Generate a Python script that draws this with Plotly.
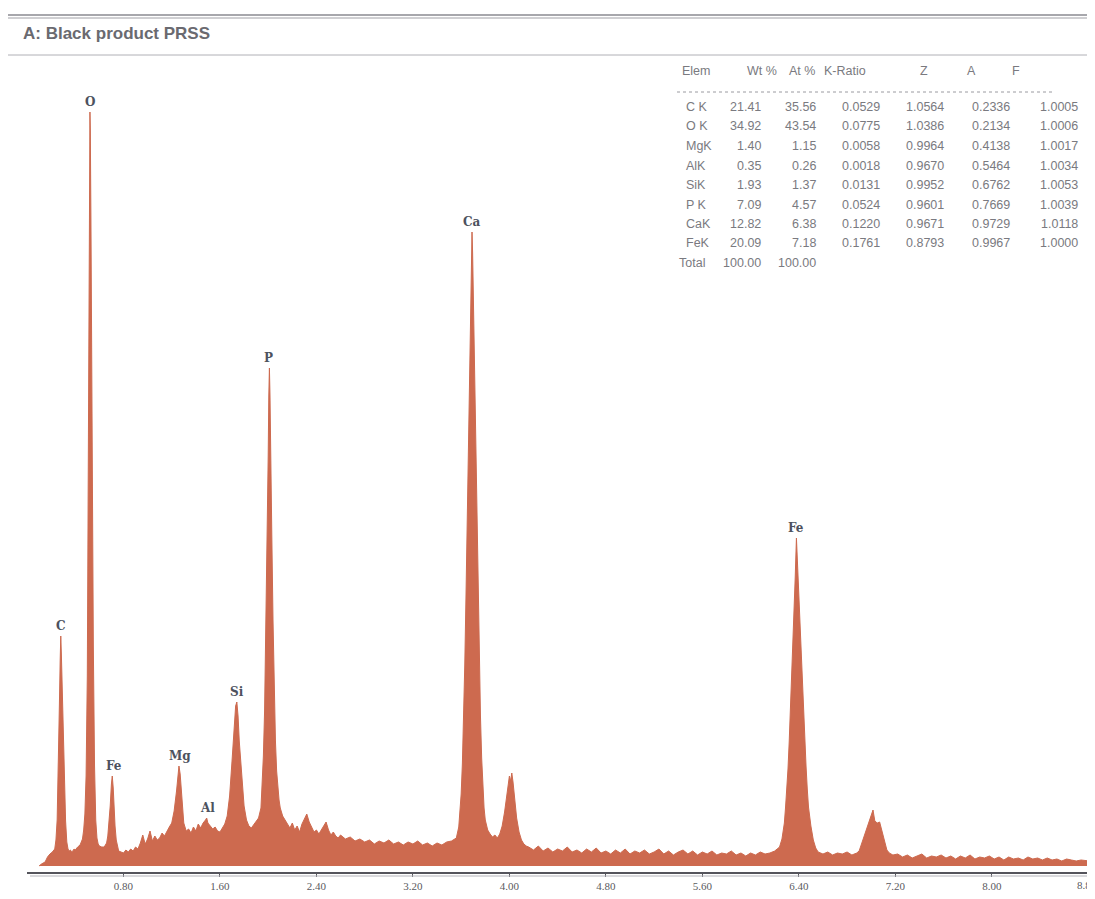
import plotly.graph_objects as go

# ---------------- data ----------------
# EDS spectrum: (energy keV, counts)
spectrum_low = [
    (0.10, 0), (0.12, 2), (0.15, 4), (0.17, 9), (0.19, 12), (0.21, 14), (0.23, 17), (0.24, 26),
    (0.25, 46), (0.26, 95), (0.27, 170), (0.275, 205), (0.28, 230), (0.285, 212), (0.29, 185),
    (0.30, 140), (0.31, 85), (0.32, 45), (0.33, 24), (0.34, 17), (0.35, 15), (0.36, 16), (0.37, 14),
    (0.38, 15), (0.39, 17), (0.40, 16), (0.42, 19), (0.44, 21), (0.46, 27), (0.47, 36), (0.48, 52),
    (0.49, 90), (0.50, 190), (0.51, 420), (0.515, 580), (0.52, 720), (0.522, 754), (0.525, 735),
    (0.53, 650), (0.54, 420), (0.55, 220), (0.56, 100), (0.57, 46), (0.58, 28), (0.59, 22),
    (0.60, 20), (0.62, 19), (0.64, 19), (0.66, 23), (0.67, 30), (0.68, 42), (0.69, 60), (0.70, 82),
    (0.707, 90), (0.715, 78), (0.72, 62), (0.73, 40), (0.74, 26), (0.75, 19), (0.76, 15),
    (0.78, 14), (0.80, 13), (0.82, 16), (0.84, 14), (0.86, 17), (0.88, 15), (0.90, 19), (0.92, 17),
    (0.94, 23), (0.96, 31), (0.98, 22), (1.00, 27), (1.02, 35), (1.04, 25), (1.06, 30), (1.08, 26),
    (1.10, 28), (1.12, 33), (1.14, 30), (1.16, 35), (1.18, 39), (1.20, 43), (1.22, 55), (1.24, 75),
    (1.25, 88), (1.26, 100), (1.27, 92), (1.28, 75), (1.29, 56), (1.30, 43), (1.32, 35), (1.34, 37),
    (1.36, 33), (1.38, 39), (1.40, 35), (1.42, 42), (1.44, 38), (1.46, 43), (1.48, 46), (1.49, 48),
    (1.50, 43), (1.52, 40), (1.54, 37), (1.56, 39), (1.58, 35), (1.60, 34),
]
spectrum_mid = [
    (1.62, 38), (1.64, 42), (1.66, 50), (1.68, 70), (1.70, 105), (1.72, 145), (1.73, 160),
    (1.74, 164), (1.75, 150), (1.76, 125), (1.78, 90), (1.80, 60), (1.82, 46), (1.84, 40),
    (1.86, 38), (1.88, 41), (1.90, 44), (1.92, 48), (1.94, 58), (1.95, 78), (1.96, 110), (1.97, 155),
    (1.98, 230), (1.99, 320), (2.00, 410), (2.005, 470), (2.01, 498), (2.015, 470), (2.02, 410),
    (2.03, 330), (2.04, 245), (2.05, 175), (2.06, 125), (2.07, 95), (2.08, 78), (2.09, 66),
    (2.10, 58), (2.12, 50), (2.14, 46), (2.16, 42), (2.18, 38), (2.20, 43), (2.22, 36), (2.24, 40),
    (2.26, 34), (2.28, 42), (2.30, 48), (2.32, 52), (2.34, 44), (2.36, 38), (2.38, 34), (2.40, 36),
    (2.42, 32), (2.44, 36), (2.46, 40), (2.48, 44), (2.50, 36), (2.52, 31), (2.54, 34), (2.56, 30),
    (2.58, 28), (2.60, 31), (2.64, 27), (2.68, 29), (2.72, 25), (2.76, 27), (2.80, 24), (2.84, 26),
    (2.88, 22), (2.92, 25), (2.96, 23), (3.00, 26), (3.04, 22), (3.08, 24), (3.12, 21), (3.16, 24),
    (3.20, 22), (3.24, 25), (3.28, 21), (3.32, 23), (3.36, 20), (3.40, 23), (3.44, 21), (3.48, 24),
    (3.52, 25),
]
spectrum_ca = [
    (3.56, 28), (3.58, 39), (3.59, 53), (3.60, 72), (3.61, 102), (3.62, 145), (3.63, 201),
    (3.64, 269), (3.65, 348), (3.66, 430), (3.67, 509), (3.68, 574), (3.685, 610), (3.69, 634),
    (3.695, 613), (3.70, 578), (3.71, 513), (3.72, 434), (3.73, 353), (3.74, 274), (3.75, 206),
    (3.76, 150), (3.77, 108), (3.78, 78), (3.79, 58), (3.80, 46), (3.82, 36), (3.84, 32),
    (3.86, 29), (3.88, 31), (3.90, 28), (3.92, 32), (3.94, 40), (3.96, 54), (3.98, 74), (3.99, 86),
    (4.00, 90), (4.01, 85), (4.02, 93), (4.03, 84), (4.04, 69), (4.06, 48), (4.08, 34), (4.10, 26),
    (4.12, 22), (4.14, 20), (4.16, 19), (4.20, 16), (4.24, 20), (4.28, 15), (4.32, 18), (4.36, 14),
    (4.40, 17), (4.44, 15), (4.48, 19), (4.52, 14), (4.56, 16), (4.60, 13), (4.64, 17), (4.68, 14),
    (4.72, 18), (4.76, 13), (4.80, 15), (4.84, 12), (4.88, 16), (4.92, 13), (4.96, 17), (5.00, 12),
    (5.04, 15), (5.08, 13), (5.12, 16), (5.16, 12), (5.20, 14), (5.24, 17), (5.28, 12), (5.32, 15),
    (5.36, 11), (5.40, 14), (5.44, 16), (5.48, 12), (5.52, 15), (5.56, 11), (5.60, 14), (5.64, 12),
    (5.68, 15), (5.72, 11), (5.76, 13), (5.80, 12), (5.84, 15), (5.88, 11), (5.92, 13), (5.96, 10),
    (6.00, 13), (6.04, 11), (6.08, 14), (6.12, 12), (6.16, 13), (6.20, 15),
]
spectrum_fe = [
    (6.22, 17), (6.24, 19), (6.26, 27), (6.28, 43), (6.29, 59), (6.30, 75), (6.31, 97), (6.32, 124),
    (6.33, 154), (6.34, 187), (6.35, 222), (6.36, 255), (6.37, 289), (6.375, 309), (6.38, 328),
    (6.385, 314), (6.39, 299), (6.40, 279), (6.41, 255), (6.42, 224), (6.43, 189), (6.44, 157),
    (6.45, 127), (6.46, 99), (6.47, 77), (6.48, 59), (6.50, 40), (6.52, 26), (6.54, 18), (6.56, 14),
    (6.60, 12), (6.64, 14), (6.68, 11), (6.72, 13), (6.76, 12), (6.80, 14), (6.84, 11), (6.88, 13),
    (6.90, 15), (6.92, 22), (6.94, 30), (6.96, 36), (6.98, 42), (7.00, 49), (7.015, 56), (7.03, 45),
    (7.05, 43), (7.07, 44), (7.09, 34), (7.11, 24), (7.13, 16), (7.15, 13), (7.18, 11), (7.22, 12),
    (7.26, 9), (7.30, 11), (7.34, 8), (7.38, 10), (7.42, 12), (7.46, 8), (7.50, 10), (7.54, 9),
    (7.58, 11), (7.62, 8), (7.66, 10), (7.70, 7), (7.74, 10), (7.78, 8), (7.82, 11), (7.86, 7),
    (7.90, 9), (7.94, 8), (7.98, 10), (8.02, 7), (8.06, 9), (8.10, 6), (8.14, 9), (8.18, 7),
    (8.22, 8), (8.26, 6), (8.30, 9), (8.34, 7), (8.38, 8), (8.42, 6), (8.46, 8), (8.50, 6),
    (8.54, 7), (8.58, 5), (8.62, 7), (8.66, 6), (8.70, 5), (8.74, 6), (8.78, 5), (8.81, 5),
]

# Peak labels
peak_labels = ["C", "O", "Fe", "Mg", "Al", "Si", "P", "Ca", "Fe"]
peak_energy = [0.28, 0.522, 0.72, 1.265, 1.495, 1.74, 2.00, 3.69, 6.38]
peak_counts = [230, 754, 90, 100, 48, 164, 498, 634, 328]

# X ticks (the last label sits at the right window edge)
tick_values = [0.8, 1.6, 2.4, 3.2, 4.0, 4.8, 5.6, 6.4, 7.2, 8.0, 8.8]
tick_labels = ["0.80", "1.60", "2.40", "3.20", "4.00", "4.80", "5.60", "6.40", "7.20", "8.00", "8.8"]

# Quantification table
table_header = ["Elem", "Wt %", "At %", "K-Ratio", "Z", "A", "F"]
elements = ["C K", "O K", "MgK", "AlK", "SiK", "P K", "CaK", "FeK"]
wt_pct = ["21.41", "34.92", "1.40", "0.35", "1.93", "7.09", "12.82", "20.09"]
at_pct = ["35.56", "43.54", "1.15", "0.26", "1.37", "4.57", "6.38", "7.18"]
k_ratio = ["0.0529", "0.0775", "0.0058", "0.0018", "0.0131", "0.0524", "0.1220", "0.1761"]
z_corr = ["1.0564", "1.0386", "0.9964", "0.9670", "0.9952", "0.9601", "0.9671", "0.8793"]
a_corr = ["0.2336", "0.2134", "0.4138", "0.5464", "0.6762", "0.7669", "0.9729", "0.9967"]
f_corr = ["1.0005", "1.0006", "1.0017", "1.0034", "1.0053", "1.0039", "1.0118", "1.0000"]
total_row = ["Total", "100.00", "100.00"]

title_text = "A: Black product PRSS"
cursor_kev = 8.81

# ---------------- figure ----------------
# the page body adds an 8 px offset; the figure is sized so the page does not overflow
OFF = 8
PAGE_W, PAGE_H = 1095, 899
PL, PR, PT, PB = 27, 1090, 92, 872          # plot area in page pixels
W, H = PAGE_W - OFF, PAGE_H - 2 * OFF
ML, MR, MT, MB = PL - OFF, (OFF + W) - PR, PT - OFF, (OFF + H) - PB
PW, PH = PR - PL, PB - PT


def px(x):
    return (x - PL) / PW


def py(y):
    return (PB - y) / PH


energy = []
counts = []
for seg in (spectrum_low, spectrum_mid, spectrum_ca, spectrum_fe):
    for e, c in seg:
        energy.append(e)
        counts.append(c)

FILL = "#cd6a4f"

fig = go.Figure()
fig.add_trace(go.Scatter(
    x=energy, y=counts, mode="lines", fill="tozeroy",
    line=dict(color=FILL, width=1), fillcolor=FILL, hoverinfo="skip", showlegend=False,
))

label_font = dict(family="DejaVu Serif", size=12, color="#4d525e")
for lab, e, c in zip(peak_labels, peak_energy, peak_counts):
    fig.add_annotation(x=e, y=c, text="<b>%s</b>" % lab, showarrow=False,
                       yanchor="bottom", yshift=1, font=label_font)

# title
fig.add_annotation(xref="paper", yref="paper", x=px(21), y=py(33), text="<b>%s</b>" % title_text,
                   showarrow=False, xanchor="left", yanchor="middle",
                   font=dict(family="Liberation Sans", size=17, color="#6a6a70"))

# table
tfont = dict(family="Liberation Sans", size=12.5, color="#7a7a80")
header_x = [680, 745, 787, 822, 924, 971, 1016]
header_anchor = ["left", "left", "left", "left", "center", "center", "center"]
for txt, x, anc in zip(table_header, header_x, header_anchor):
    fig.add_annotation(xref="paper", yref="paper", x=px(x), y=py(71), text=txt, showarrow=False,
                       xanchor=anc, yanchor="middle", font=tfont)
fig.add_shape(type="line", xref="paper", yref="paper", x0=px(677), x1=px(1055), y0=py(92), y1=py(92),
              line=dict(color="#9a9aa0", width=1, dash="dot"))

col_right = [763, 818, 882, 946, 1012, 1080]
row_y0, row_step = 107, 19.5
for i, el in enumerate(elements):
    y = py(row_y0 + i * row_step)
    fig.add_annotation(xref="paper", yref="paper", x=px(684), y=y, text=el, showarrow=False,
                       xanchor="left", yanchor="middle", font=tfont)
    for vals, xr in zip((wt_pct, at_pct, k_ratio, z_corr, a_corr, f_corr), col_right):
        fig.add_annotation(xref="paper", yref="paper", x=px(xr), y=y, text=vals[i], showarrow=False,
                           xanchor="right", yanchor="middle", font=tfont)
y_tot = py(row_y0 + len(elements) * row_step)
fig.add_annotation(xref="paper", yref="paper", x=px(677), y=y_tot, text=total_row[0], showarrow=False,
                   xanchor="left", yanchor="middle", font=tfont)
for txt, xr in zip(total_row[1:], col_right[:2]):
    fig.add_annotation(xref="paper", yref="paper", x=px(xr), y=y_tot, text=txt, showarrow=False,
                       xanchor="right", yanchor="middle", font=tfont)

# frame lines of the original window
for yy, col, wd in ((15, "#8a8a90", 1.5), (18, "#a0a0a6", 1), (55, "#b0b0b6", 1)):
    fig.add_shape(type="line", xref="paper", yref="paper", x0=px(OFF), x1=px(PAGE_W), y0=py(yy), y1=py(yy),
                  line=dict(color=col, width=wd))
# lower axis double line
fig.add_shape(type="line", xref="paper", yref="paper", x0=px(30), x1=px(1092), y0=py(876), y1=py(876),
              line=dict(color="#b5b5bb", width=1))
# cursor marker at right edge
fig.add_shape(type="line", xref="x", yref="y", x0=cursor_kev, x1=cursor_kev, y0=0, y1=80,
              line=dict(color="#6a6a70", width=1.5))

tick_font = dict(family="Liberation Serif", size=11, color="#5a5a60")
# last tick label kept inside the window, right-aligned at its edge
fig.add_annotation(xref="paper", yref="paper", x=px(PAGE_W - 2), y=py(885), text=tick_labels[-1],
                   showarrow=False, xanchor="right", yanchor="middle", font=tick_font)

fig.update_layout(
    width=W, height=H, margin=dict(l=ML, r=MR, t=MT, b=MB, autoexpand=False),
    paper_bgcolor="white", plot_bgcolor="white", showlegend=False,
    xaxis=dict(range=[0, PW / 120.6], tickvals=tick_values, ticktext=tick_labels[:-1] + [""],
               automargin=False,
               showgrid=False, zeroline=False, showline=True, linecolor="#55555c", linewidth=2,
               ticks="outside", ticklen=3, tickcolor="#55555c", tickfont=tick_font),
    yaxis=dict(range=[-6, PH - 6], visible=False),
)

fig.write_html("out.html")
